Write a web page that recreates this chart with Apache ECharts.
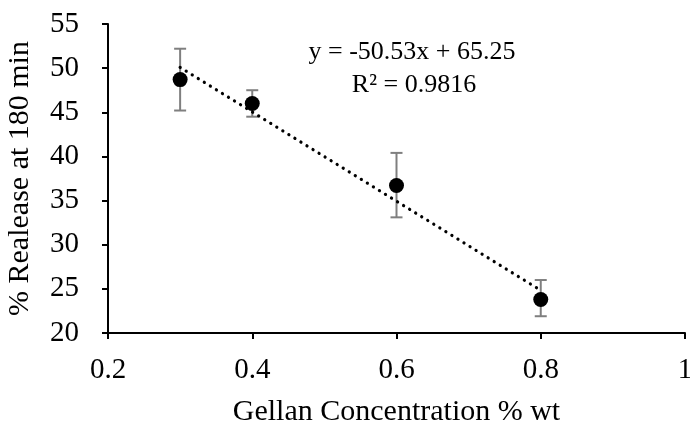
<!DOCTYPE html>
<html>
<head>
<meta charset="utf-8">
<script src="https://cdn.jsdelivr.net/npm/echarts@6/dist/echarts.min.js"></script>
<style>
  html, body { margin: 0; padding: 0; background: #fff; }
  #main { width: 690px; height: 426px; }
</style>
</head>
<body>
<div id="main"></div>
<script>
// data
var gellan = [0.3, 0.4, 0.6, 0.8]
var release = [48.7, 46.0, 36.7, 23.8]
var errLow = [45.2, 44.5, 33.1, 21.9]
var errHigh = [52.2, 47.5, 40.4, 26.0]
// linear trendline ends (y = -50.53x + 65.25)
var trendX = [0.3, 0.8]
var trendY = [50.09, 24.83]
var eqText = ['y = -50.53x + 65.25', 'R² = 0.9816']

var serif = '"Liberation Serif", "Times New Roman", serif'

var pts = gellan.map(function (x, i) { return [x, release[i]] })
var bars = gellan.map(function (x, i) { return [x, errLow[i], errHigh[i]] })
var trend = trendX.map(function (x, i) { return [x, trendY[i]] })

var chart = echarts.init(document.getElementById('main'))
var option = {
  backgroundColor: '#fff',
  animation: false,
  grid: { left: 108, right: 5, top: 24, bottom: 93, outerBoundsMode: 'none', containLabel: false },
  xAxis: {
    type: 'value',
    min: 0.2,
    max: 1,
    interval: 0.2,
    name: 'Gellan Concentration % wt',
    nameLocation: 'middle',
    nameGap: 64,
    nameTextStyle: { fontFamily: serif, fontSize: 30, color: '#000' },
    axisLine: { show: true, lineStyle: { color: '#000', width: 2 } },
    axisTick: { show: true, length: 6, lineStyle: { color: '#000', width: 2 } },
    axisLabel: { fontFamily: serif, fontSize: 29, color: '#000', margin: 23 },
    splitLine: { show: false }
  },
  yAxis: {
    type: 'value',
    min: 20,
    max: 55,
    interval: 5,
    name: '% Realease at 180 min',
    nameLocation: 'middle',
    nameGap: 73,
    nameTextStyle: { fontFamily: serif, fontSize: 30, color: '#000' },
    axisLine: { show: true, lineStyle: { color: '#000', width: 2 } },
    axisTick: { show: true, length: 6, lineStyle: { color: '#000', width: 2 } },
    axisLabel: { fontFamily: serif, fontSize: 29, color: '#000', margin: 29 },
    splitLine: { show: false }
  },
  graphic: [
    {
      type: 'text',
      x: 412,
      y: 52,
      style: { text: eqText[0], fill: '#000', font: '26px ' + serif, align: 'center', verticalAlign: 'middle' }
    },
    {
      type: 'text',
      x: 414,
      y: 85,
      style: { text: eqText[1], fill: '#000', font: '26px ' + serif, align: 'center', verticalAlign: 'middle' }
    }
  ],
  series: [
    {
      type: 'custom',
      data: bars,
      z: 2,
      renderItem: function (params, api) {
        var x = api.value(0)
        var lo = api.coord([x, api.value(1)])
        var hi = api.coord([x, api.value(2)])
        var w = 6
        var st = { stroke: '#7f7f7f', lineWidth: 2 }
        return {
          type: 'group',
          children: [
            { type: 'line', shape: { x1: lo[0], y1: lo[1], x2: hi[0], y2: hi[1] }, style: st },
            { type: 'line', shape: { x1: lo[0] - w, y1: lo[1], x2: lo[0] + w, y2: lo[1] }, style: st },
            { type: 'line', shape: { x1: hi[0] - w, y1: hi[1], x2: hi[0] + w, y2: hi[1] }, style: st }
          ]
        }
      }
    },
    {
      type: 'line',
      data: trend,
      z: 3,
      showSymbol: false,
      symbol: 'none',
      lineStyle: { color: '#000', width: 3.2, type: [0.1, 7], cap: 'round' }
    },
    {
      type: 'scatter',
      data: pts,
      z: 4,
      symbol: 'circle',
      symbolSize: 15,
      itemStyle: { color: '#000', opacity: 1 }
    }
  ]
}
chart.setOption(option)
</script>
</body>
</html>
